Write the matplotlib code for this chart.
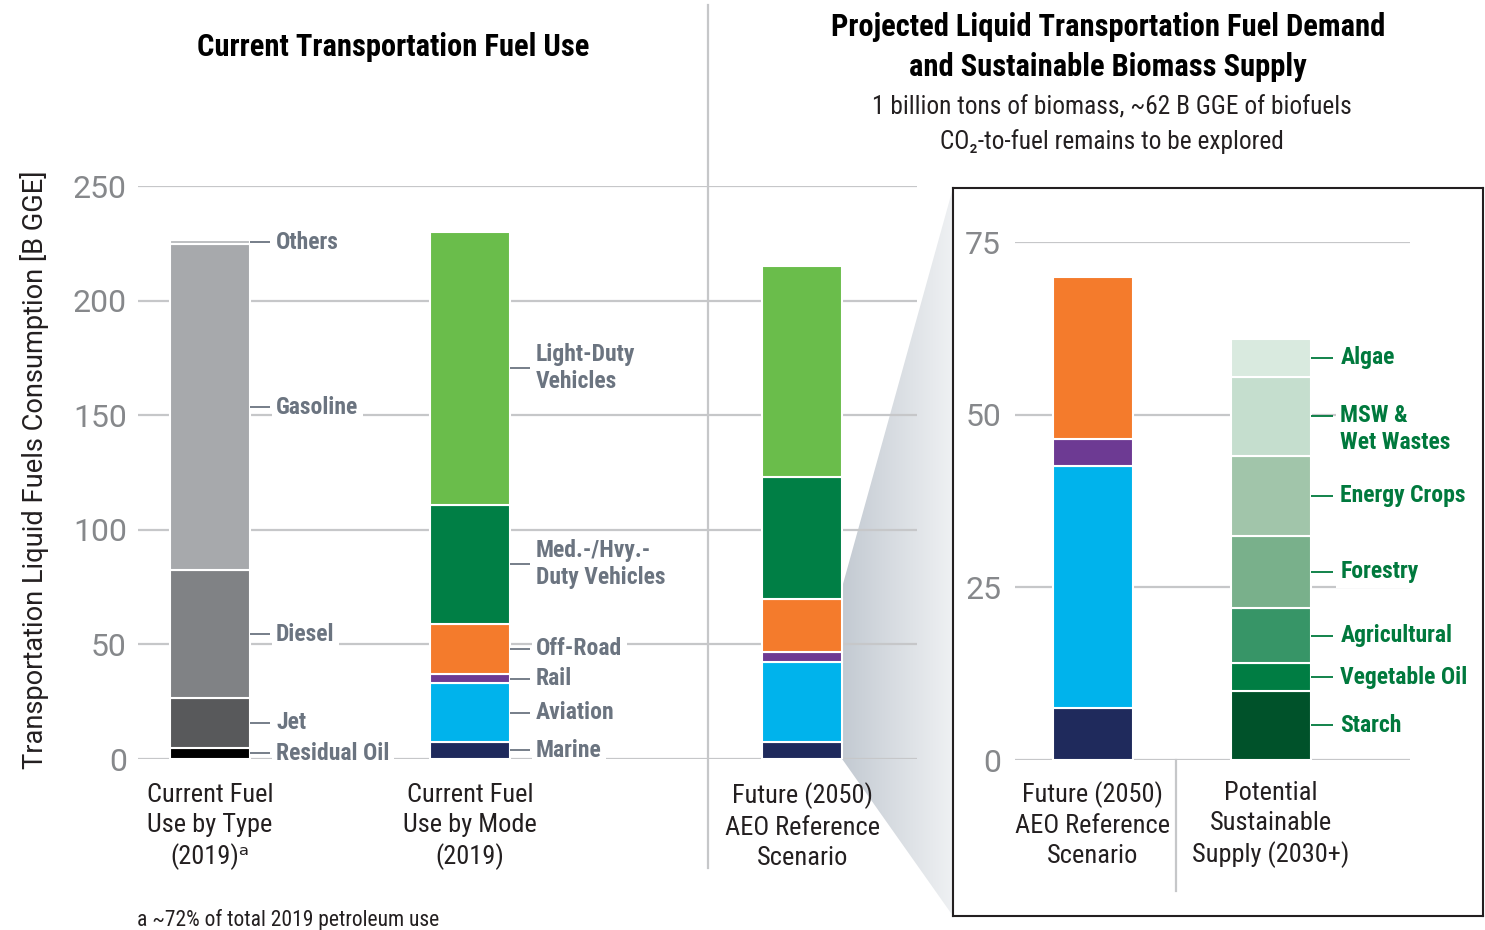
import matplotlib.pyplot as plt
import numpy as np
from matplotlib.patches import Polygon
from matplotlib.lines import Line2D
from matplotlib.colors import LinearSegmentedColormap

COND = ["Roboto Condensed", "DejaVu Sans"]
PLAIN = ["Roboto", "DejaVu Sans"]
plt.rcParams['font.family'] = COND

# fuel use by type, 2019 (B GGE), stacked bottom -> top
type_labels = ["Residual Oil", "Jet", "Diesel", "Gasoline", "Others"]
type_values = [5, 21.5, 56, 142, 2]
type_colors = ["#000000", "#58595b", "#808285", "#a7a9ac", "#bcbec0"]

# fuel use by mode (B GGE)
mode_labels = ["Marine", "Aviation", "Rail", "Off-Road",
               "Med.-/Hvy.-\nDuty Vehicles", "Light-Duty\nVehicles"]
mode_2019 = [7.5, 25.5, 4, 22, 52, 119]
mode_2050 = [7.5, 35, 4, 23.5, 53, 92]
mode_colors = ["#1f2a5c", "#00b3ec", "#6d3a93", "#f47b2c", "#007f45", "#6abd4b"]
n_hard_modes = 4  # marine, aviation, rail, off-road go to the zoom panel

# potential sustainable supply (B GGE)
supply_labels = ["Starch", "Vegetable Oil", "Agricultural", "Forestry",
                 "Energy Crops", "MSW &\nWet Wastes", "Algae"]
supply_values = [10, 4, 8, 10.5, 11.5, 11.5, 5.5]
supply_colors = ["#00522a", "#007d43", "#379567", "#79b08b",
                 "#a1c5aa", "#c5dece", "#d9eadf"]

main_categories = ["Current Fuel\nUse by Type\n(2019)\u1d43",
                   "Current Fuel\nUse by Mode\n(2019)",
                   "Future (2050)\nAEO Reference\nScenario"]
zoom_categories = ["Future (2050)\nAEO Reference\nScenario",
                   "Potential\nSustainable\nSupply (2030+)"]

GRID = "#c6c7c9"
GRAY_TXT = "#6b7480"
GREEN_TXT = "#00793d"
TICK_TXT = "#86888b"
DARK = "#231f20"


def stack(ax, x, values, colors, width):
    values = np.asarray(values, dtype=float)
    bottoms = np.concatenate([[0], np.cumsum(values)[:-1]])
    ax.bar(x, values, width, bottom=bottoms, color=colors,
           edgecolor="white", linewidth=1.5, zorder=3)
    return bottoms + values / 2


def label_segments(ax, x, width, centers, labels, color, tick, gap, size, shifts=None):
    edge = x + width / 2
    shifts = shifts or {}
    for c, lab in zip(centers, labels):
        ax.plot([edge, edge + tick], [c, c], color=color, lw=1.3, zorder=4,
                solid_capstyle="butt")
        dy, va = shifts.get(lab, (0, "center"))
        ax.annotate(lab, (edge + gap, c), xytext=(0, dy), textcoords="offset points",
                    va=va, ha="left", color=color, fontsize=size, weight="bold",
                    linespacing=1.25, zorder=4,
                    bbox=dict(fc="white", ec="none", pad=3))


fig = plt.figure(figsize=(14.85, 9.3), dpi=100)

# ---------------- main panel ----------------
ax = fig.add_axes([138 / 1485, 171 / 930, 779 / 1485, 573 / 930])
ax.set_facecolor("none")
xpos = [0, 1, 2.277]
w = 0.308

c1 = stack(ax, xpos[0], type_values, type_colors, w)
c2 = stack(ax, xpos[1], mode_2019, mode_colors, w)
stack(ax, xpos[2], mode_2050, mode_colors, w)

label_segments(ax, xpos[0], w, c1, type_labels, GRAY_TXT, 0.078, 0.1, 17)
label_segments(ax, xpos[1], w, c2, mode_labels, GRAY_TXT, 0.078, 0.1, 17)

ax.set_xlim(-0.277, 2.719)
ax.set_ylim(0, 250)
ax.set_yticks(range(0, 251, 50))
ax.yaxis.grid(True, color=GRID, lw=1.6)
ax.set_axisbelow(True)
for s in ax.spines.values():
    s.set_visible(False)
ax.tick_params(axis="y", length=0, pad=8, labelsize=23, labelcolor=TICK_TXT)
for t in ax.get_yticklabels():
    t.set_family(PLAIN)
ax.set_xticks(xpos, main_categories, fontsize=19, linespacing=1.32)
ax.tick_params(axis="x", length=0, pad=17, labelcolor=DARK)

fig.text(35 / 1485, 1 - 470 / 930, "Transportation Liquid Fuels Consumption [B GGE]",
         rotation=90, ha="center", va="center", fontsize=19.6, color=DARK, family=PLAIN)

# ---------------- zoom panel ----------------
box = fig.add_axes([953 / 1485, 14 / 930, 530 / 1485, 728 / 930])
box.set_xticks([])
box.set_yticks([])
for s in box.spines.values():
    s.set_color(DARK)
    s.set_linewidth(1.5)

zx = fig.add_axes([1015 / 1485, 170 / 930, 395 / 1485, 518 / 930])
zx.set_facecolor("none")
zpos = [0, 1]
zw = 0.449
stack(zx, zpos[0], mode_2050[:n_hard_modes], mode_colors[:n_hard_modes], zw)
c4 = stack(zx, zpos[1], supply_values, supply_colors, zw)
label_segments(zx, zpos[1], zw, c4, supply_labels, GREEN_TXT, 0.124, 0.165, 17,
               shifts={"MSW &\nWet Wastes": (9, "top")})
zx.set_xlim(-0.438, 1.781)
zx.set_ylim(0, 75)
zx.set_yticks([0, 25, 50, 75])
zx.yaxis.grid(True, color=GRID, lw=1.6)
zx.set_axisbelow(True)
for s in zx.spines.values():
    s.set_visible(False)
zx.tick_params(axis="y", length=0, pad=10, labelsize=23, labelcolor=TICK_TXT)
for t in zx.get_yticklabels():
    t.set_family(PLAIN)
zx.set_xticks(zpos, zoom_categories, fontsize=19, linespacing=1.32)
zx.tick_params(axis="x", length=0, pad=15, labelcolor=DARK)
zx.plot([0.466, 0.466], [0, -19], color=GRID, lw=1.6, clip_on=False)

# ---------------- shaded wedge linking bar 3 to zoom panel ----------------
to_fig = fig.transFigure.inverted()
edge_x = xpos[2] + w / 2
p_top = to_fig.transform(ax.transData.transform((edge_x, zx.get_ylim()[1])))
p_bot = to_fig.transform(ax.transData.transform((edge_x, 0)))
bpos = box.get_position()
wedge = [p_top, p_bot, (bpos.x0, bpos.y0), (bpos.x0, bpos.y1)]

bg = fig.add_axes([0, 0, 1, 1], zorder=-1)
bg.set_xlim(0, 1)
bg.set_ylim(0, 1)
bg.axis("off")
grad = np.linspace(0, 1, 256).reshape(1, -1)
cmap = LinearSegmentedColormap.from_list("wedge", ["#c3cad2", "#eff1f3"])
im = bg.imshow(grad, cmap=cmap, aspect="auto",
               extent=[p_top[0], bpos.x0, bpos.y0, bpos.y1], zorder=0)
poly = Polygon(wedge, closed=True, transform=bg.transData, fc="none", ec="none")
bg.add_patch(poly)
im.set_clip_path(poly)

# divider between current and future sections
fig.add_artist(Line2D([708 / 1485, 708 / 1485], [1 - 5 / 930, 1 - 868 / 930],
                      color=GRID, lw=1.6))

# ---------------- titles ----------------
fig.text(393 / 1485, 1 - 47 / 930, "Current Transportation Fuel Use",
         ha="center", va="center", fontsize=22, weight="bold", color="#000000")
fig.text(1108 / 1485, 1 - 47 / 930,
         "Projected Liquid Transportation Fuel Demand\nand Sustainable Biomass Supply",
         ha="center", va="center", fontsize=22, weight="bold", color="#000000",
         linespacing=1.38)
fig.text(1112 / 1485, 1 - 107 / 930, "1 billion tons of biomass, ~62 B GGE of biofuels",
         ha="center", va="center", fontsize=18.3, color=DARK)
fig.text(1112 / 1485, 1 - 142 / 930, "CO\u2082-to-fuel remains to be explored",
         ha="center", va="center", fontsize=18.3, color=DARK)
fig.text(137 / 1485, 1 - 920 / 930, "a ~72% of total 2019 petroleum use",
         ha="left", va="center", fontsize=15.5, color=DARK)

fig.savefig("out.png", dpi=100)
